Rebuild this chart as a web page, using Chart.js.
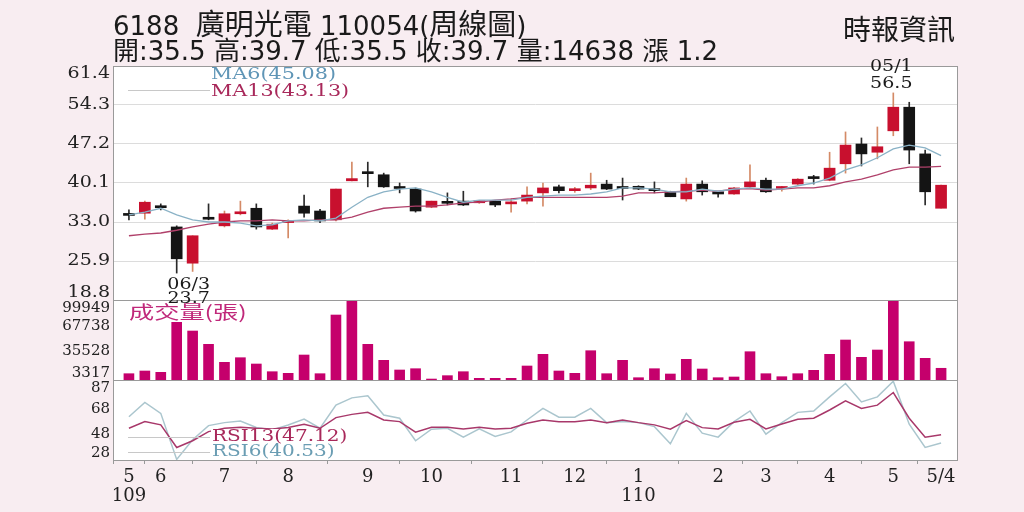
<!DOCTYPE html>
<html>
<head>
<meta charset="utf-8">
<script src="https://cdn.jsdelivr.net/npm/chart.js@4.4.1/dist/chart.umd.min.js"></script>
<style>
  html, body { margin: 0; padding: 0; background: #f8edf1; }
</style>
</head>
<body>
<canvas id="kline" width="1024" height="512"></canvas>
<script>
// weekly candles, 109/05 .. 110/05
const opens  = [34.4,34.6,35.8,32.1,25.5,33.6,32.3,34.5,35.5,31.7,32.9,35.9,35.0,33.4,40.5,42.0,41.6,39.3,39.0,35.7,36.6,36.8,36.5,36.8,36.3,36.8,38.3,39.4,38.7,39.2,39.9,39.3,39.5,38.9,38.5,37.2,39.9,38.5,38.1,39.4,40.6,39.1,39.9,41.1,40.6,43.6,47.2,45.7,49.6,53.9,45.4,35.5];
const highs  = [35.2,36.8,36.3,32.3,30.5,36.3,35.0,36.8,36.3,32.8,33.4,37.9,35.3,39.0,43.9,43.9,41.9,40.1,39.2,36.8,38.3,38.6,36.9,36.9,37.2,39.4,40.1,39.7,39.3,41.9,40.6,41.0,39.6,40.3,38.6,41.0,40.5,38.6,39.3,43.4,41.0,39.5,40.9,41.5,45.7,49.4,48.3,50.3,56.5,54.8,46.1,39.7];
const lows   = [33.4,33.5,35.2,23.7,24.0,33.4,32.1,34.3,31.7,31.6,30.1,33.9,32.9,33.2,40.5,39.4,39.3,38.3,34.8,35.6,36.1,36.0,36.4,35.8,34.8,36.3,35.9,38.3,38.4,38.9,38.9,37.0,38.9,38.3,37.6,36.8,37.9,37.5,38.0,39.3,38.4,38.6,39.8,39.9,40.5,41.9,43.2,44.5,48.7,43.6,36.1,35.5];
const closes = [34.2,36.6,35.6,26.3,30.5,33.5,34.5,34.7,32.1,32.6,33.1,34.6,33.2,39.0,40.9,41.8,39.4,39.1,35.0,36.8,36.4,36.1,36.8,36.1,36.6,37.9,39.2,38.7,38.9,39.7,39.0,39.1,39.0,38.7,37.6,39.9,38.5,38.1,39.2,40.3,38.5,39.3,40.8,40.9,42.8,47.0,45.4,46.7,53.9,46.1,38.5,39.7];
const volumes = [7870,11240,9600,72070,61200,44590,22100,27860,19980,10370,8370,31220,7870,81190,99949,44590,24600,12490,14110,1200,5420,10370,2080,2080,2080,17490,32100,11240,8370,36600,7870,24600,2870,14110,7490,25850,13740,2870,3750,35350,7870,4120,7870,12120,32100,49960,28350,37470,98500,47840,27100,14638];
const ma6   = [34.3,34.8,35.5,34.3,33.4,33.0,33.0,32.8,32.3,32.5,33.2,33.4,33.2,33.7,35.7,37.5,38.5,39.0,39.2,38.5,37.5,36.6,37.0,37.0,37.0,37.5,37.7,37.9,37.9,38.1,38.5,39.2,39.2,39.0,38.5,38.5,39.0,38.6,39.0,39.2,39.0,39.0,39.6,40.1,41.0,42.5,43.4,44.7,46.3,47.0,46.5,45.08];
const ma13  = [30.5,30.8,31.0,31.5,32.1,32.6,33.0,33.2,33.2,33.4,33.2,33.2,33.4,33.4,33.9,34.8,35.5,35.7,35.9,35.9,36.1,36.5,36.6,37.0,37.2,37.5,37.5,37.5,37.5,37.5,37.5,37.7,38.3,38.3,38.5,38.6,38.8,38.6,39.0,39.1,38.8,39.0,39.2,39.2,39.6,40.3,40.8,41.6,42.5,43.0,43.0,43.13];
const rsi6  = [61.6,73.1,64.3,27.5,43.2,54.5,56.9,58.2,53.0,51.0,55.0,59.8,52.4,70.9,76.7,78.3,63.0,60.4,42.4,51.6,52.4,45.3,51.9,45.8,49.5,59.0,68.3,61.2,61.2,68.3,56.9,57.7,56.9,53.7,40.0,64.3,48.5,45.3,57.7,66.2,47.7,56.9,65.1,66.2,77.5,88.2,73.5,77.5,90.0,55.6,37.0,40.53];
const rsi13 = [52.4,57.7,55.1,37.0,42.4,49.7,52.4,53.2,52.4,51.9,53.0,55.6,52.4,60.9,63.5,65.1,59.0,57.7,49.3,53.2,53.2,51.9,53.2,51.9,52.4,56.4,59.0,57.7,57.7,59.0,56.9,59.0,56.9,55.1,51.6,58.5,52.9,51.9,57.2,59.6,51.9,55.8,59.6,60.4,67.0,74.3,68.3,70.9,81.0,60.4,45.3,47.12];

// axis ticks
const monthIdx  = [0, 2, 6, 10, 15, 19, 24, 28, 32, 37, 40, 44, 48, 51];
const monthText = [['5','109'],'6','7','8','9','10','11','12',['1','110'],'2','3','4','5','5/4'];
const priceTicks = [18.8, 25.9, 33.0, 40.1, 47.2, 54.3, 61.4];
const volTicks   = [3317, 35528, 67738, 99949];
const rsiTicks   = [28, 48, 68, 87];

// marked low / high
const lowIdx = 3, lowDate = '06/3';
const highIdx = 48, highDate = '05/1';

const weeks = closes.map((_, i) => i);
const isUp = i => closes[i] >= opens[i];
const asLine = arr => weeks.map(i => ({ x: i, y: arr[i] }));

const SERIF = '"DejaVu Serif", "Liberation Serif", serif';
const CJK = '"Noto Sans CJK TC", "Noto Sans CJK SC", sans-serif';
const LATIN = '"DejaVu Sans", ' + CJK;

function wideText(ctx, text, x, y, align, sx) {
  ctx.save();
  ctx.translate(x, y);
  ctx.scale(sx, 1);
  ctx.textAlign = align;
  ctx.fillText(text, 0, 0);
  ctx.restore();
  return ctx.measureText(text).width * sx;
}

// draw [text, font] pieces one after another
function runs(ctx, parts, x, y) {
  ctx.textAlign = 'left';
  parts.forEach(([t, f]) => {
    ctx.font = f;
    ctx.fillText(t, x, y);
    x += ctx.measureText(t).width;
  });
}

const decor = {
  id: 'decor',
  beforeDraw(chart) {
    const { ctx, chartArea: a } = chart;
    ctx.save();
    ctx.fillStyle = '#f8edf1';
    ctx.fillRect(0, 0, chart.width, chart.height);
    ctx.fillStyle = '#ffffff';
    ctx.fillRect(a.left, a.top, a.right - a.left, a.bottom - a.top);
    ctx.restore();
  },
  afterDraw(chart) {
    const { ctx, chartArea: a, scales } = chart;
    const n = closes.length - 1;
    ctx.save();

    // pane frames
    ctx.strokeStyle = '#9a9a9a';
    ctx.lineWidth = 1;
    ['yP', 'yV', 'yR'].forEach(id => {
      const s = scales[id];
      ctx.strokeRect(Math.round(a.left) + 0.5, Math.round(s.top) + 0.5,
        Math.round(a.right - a.left), Math.round(s.bottom - s.top));
    });

    // y labels, kept inside their pane
    ctx.fillStyle = '#222';
    ctx.textBaseline = 'middle';
    [['yP', priceTicks, v => v.toFixed(1), 17, 1.12],
     ['yV', volTicks, v => String(v), 15, 1.0],
     ['yR', rsiTicks, v => String(v), 15, 1.0]].forEach(([id, vals, fmt, size, sx]) => {
      const s = scales[id];
      ctx.font = size + 'px ' + SERIF;
      vals.forEach(v => {
        const y = Math.min(Math.max(s.getPixelForValue(v), s.top + 8), s.bottom - 7);
        wideText(ctx, fmt(v), a.left - 3, y, 'right', sx);
      });
    });

    // header
    ctx.fillStyle = '#1a1a1a';
    ctx.textBaseline = 'alphabetic';
    const L = '26px ' + LATIN, C = '29px ' + CJK;
    runs(ctx, [['6188  ', L], ['廣明光電', C], [' 110054(', L], ['周線圖', C], [')', L]], a.left, 35);
    const chg = (closes[n] - closes[n - 1]).toFixed(1);
    ctx.font = '26px ' + LATIN;
    wideText(ctx, '開:' + opens[n] + ' 高:' + highs[n] + ' 低:' + lows[n] + ' 收:' + closes[n] +
      ' 量:' + volumes[n] + ' 漲 ' + chg, a.left, 60, 'left', 1.0);
    ctx.font = '28px ' + CJK;
    wideText(ctx, '時報資訊', a.right - 2, 40, 'right', 1.0);

    // legends
    ctx.textBaseline = 'middle';
    ctx.font = '17px ' + SERIF;
    const t13 = 'RSI13(' + rsi13[n].toFixed(2) + ')';
    const t6 = 'RSI6(' + rsi6[n].toFixed(2) + ')';
    ctx.fillStyle = '#ffffff';
    ctx.fillRect(211, 429, ctx.measureText(t13).width * 1.18 + 3, 30);
    ctx.strokeStyle = '#c8c8c8';
    ctx.beginPath();
    ctx.moveTo(128, 90.5); ctx.lineTo(210, 90.5);
    ctx.moveTo(128, 437.5); ctx.lineTo(210, 437.5);
    ctx.moveTo(128, 452.5); ctx.lineTo(210, 452.5);
    ctx.stroke();
    ctx.fillStyle = '#5f95b6';
    wideText(ctx, 'MA6(' + ma6[n].toFixed(2) + ')', 211, 75, 'left', 1.22);
    ctx.fillStyle = '#a8285a';
    wideText(ctx, 'MA13(' + ma13[n].toFixed(2) + ')', 211, 92, 'left', 1.22);
    wideText(ctx, t13, 212, 437, 'left', 1.18);
    ctx.fillStyle = '#6a9db3';
    wideText(ctx, t6, 212, 452, 'left', 1.18);
    ctx.fillStyle = '#c0287a';
    ctx.font = '18px ' + CJK;
    wideText(ctx, '成交量(張)', 129, 312, 'left', 1.4);

    // low / high marks
    const x = scales.x, yP = scales.yP;
    ctx.fillStyle = '#1a1a1a';
    ctx.font = '17px ' + SERIF;
    const lx = x.getPixelForValue(lowIdx) + 12;
    const ly = yP.getPixelForValue(lows[lowIdx]);
    wideText(ctx, lowDate, lx, ly + 11, 'center', 1.12);
    wideText(ctx, lows[lowIdx].toFixed(1), lx, ly + 25, 'center', 1.12);
    const hx = x.getPixelForValue(highIdx) - 2;
    const hy = yP.getPixelForValue(highs[highIdx]);
    wideText(ctx, highDate, hx, hy - 26, 'center', 1.12);
    wideText(ctx, highs[highIdx].toFixed(1), hx, hy - 9, 'center', 1.12);

    ctx.restore();
  }
};

function paneAxis(min, max, weight, stackWeight, tickVals, withGrid) {
  return {
    type: 'linear',
    position: 'left',
    stack: 'panes',
    stackWeight: stackWeight,
    weight: weight,
    min: min,
    max: max,
    afterBuildTicks: s => { s.ticks = tickVals.map(v => ({ value: v })); },
    afterFit: s => { s.width = 0; },
    ticks: { display: false },
    grid: withGrid ? { color: '#dcdcdc', drawTicks: false } : { display: false },
    border: { color: '#8a8a8a' }
  };
}

const ctx = document.getElementById('kline').getContext('2d');
const chart = new Chart(ctx, {
  type: 'bar',
  data: {
    datasets: [
      {
        label: 'wick',
        data: weeks.map(i => ({ x: i, y: [lows[i], highs[i]] })),
        yAxisID: 'yP',
        backgroundColor: weeks.map(i => isUp(i) ? '#d48a66' : '#2a2a2a'),
        barThickness: 1,
        grouped: false,
        order: 5
      },
      {
        label: 'body',
        data: weeks.map(i => ({ x: i, y: [opens[i], closes[i]] })),
        yAxisID: 'yP',
        backgroundColor: weeks.map(i => isUp(i) ? '#c8102e' : '#141414'),
        barThickness: 11,
        minBarLength: 2,
        grouped: false,
        order: 4
      },
      {
        label: 'MA13',
        type: 'line',
        data: asLine(ma13),
        yAxisID: 'yP',
        borderColor: '#b0406a',
        borderWidth: 1.3,
        pointRadius: 0,
        order: 2
      },
      {
        label: 'MA6',
        type: 'line',
        data: asLine(ma6),
        yAxisID: 'yP',
        borderColor: '#8ab2c6',
        borderWidth: 1.3,
        pointRadius: 0,
        order: 1
      },
      {
        label: 'volume',
        data: weeks.map(i => ({ x: i, y: volumes[i] })),
        yAxisID: 'yV',
        backgroundColor: '#c5006c',
        barThickness: 10,
        grouped: false,
        order: 4
      },
      {
        label: 'RSI6',
        type: 'line',
        data: asLine(rsi6),
        yAxisID: 'yR',
        borderColor: '#abc6ce',
        borderWidth: 1.5,
        pointRadius: 0,
        order: 2
      },
      {
        label: 'RSI13',
        type: 'line',
        data: asLine(rsi13),
        yAxisID: 'yR',
        borderColor: '#a8386a',
        borderWidth: 1.5,
        pointRadius: 0,
        order: 1
      }
    ]
  },
  options: {
    responsive: false,
    animation: false,
    events: [],
    layout: { padding: { left: 113, right: 67, top: 66, bottom: 6 } },
    plugins: { legend: { display: false }, tooltip: { enabled: false } },
    scales: {
      x: {
        type: 'linear',
        min: -1,
        max: 52,
        offset: false,
        afterBuildTicks: s => { s.ticks = monthIdx.map(v => ({ value: v })); },
        afterFit: s => { s.height = 46; },
        ticks: {
          autoSkip: false,
          maxRotation: 0,
          padding: 3,
          color: '#222',
          font: { family: 'DejaVu Serif', size: 18, lineHeight: 1.1 },
          callback: v => {
            const k = monthIdx.indexOf(v);
            return k < 0 ? '' : monthText[k];
          }
        },
        grid: { drawOnChartArea: false, tickLength: 4, color: '#999' },
        border: { color: '#8a8a8a' }
      },
      yR: paneAxis(27, 91, 1, 80, rsiTicks, false),
      yV: paneAxis(0, 99949, 2, 80, volTicks, false),
      yP: paneAxis(18.8, 61.4, 3, 234, priceTicks, true)
    }
  },
  plugins: [decor]
});
</script>
</body>
</html>
